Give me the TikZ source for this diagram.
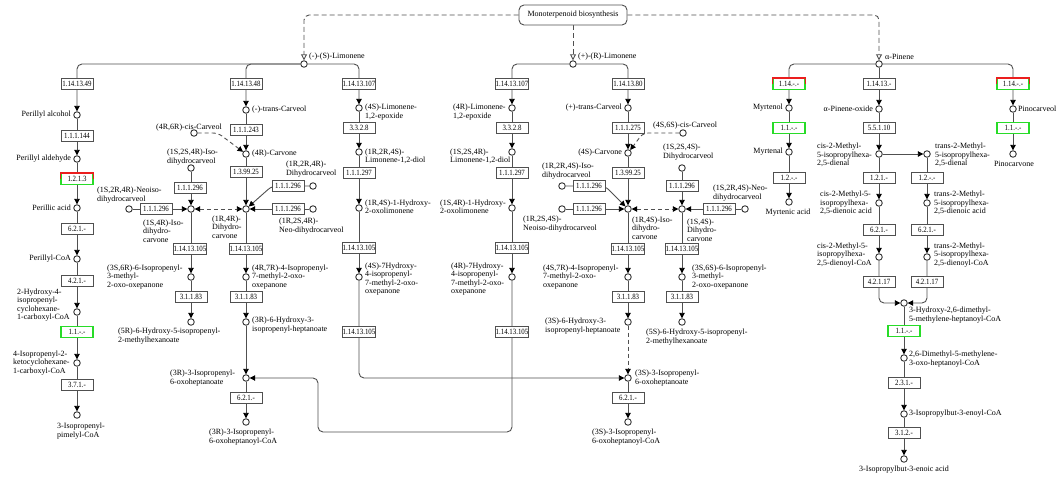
\documentclass[tikz,border=0pt]{standalone}
\usepackage{fontspec}
\setmainfont{Liberation Serif}
\newfontfamily\ecfont{Liberation Serif}[FakeStretch=0.86]
\usetikzlibrary{arrows.meta,backgrounds}
\definecolor{kgreen}{RGB}{40,220,40}
\definecolor{kred}{RGB}{235,30,30}
\definecolor{kline}{RGB}{80,80,80}
\begin{document}
\begin{tikzpicture}[x=1pt,y=-1pt,
  every node/.style={font=\fontsize{8}{8.3}\selectfont, inner sep=0pt},
  cpd/.style={circle, draw=black!80, fill=white, minimum size=6.5pt, line width=0.9pt},
  ec/.style={draw=kline, fill=white, line width=0.9pt, minimum width=32pt, minimum height=11pt,
             font=\ecfont\fontsize{8}{8}\selectfont},
  ecg/.style={ec, draw=kgreen, line width=1.4pt},
  tl/.style={align=left, anchor=west},
  tr/.style={align=right, anchor=east},
  tc/.style={align=center, anchor=center},
  mapbox/.style={draw=kline, fill=white, rounded corners=5pt, minimum width=108pt, minimum height=20pt, line width=0.9pt},
  link/.style={draw=kline, line width=0.9pt, rounded corners=5pt},
  arr/.style={link, -{Triangle[length=5.5pt,width=5.5pt,color=black]}},
  rev/.style={link, dash pattern=on 4pt off 3pt,
              {Triangle[length=5.5pt,width=5.5pt,color=black]}-{Triangle[length=5.5pt,width=5.5pt,color=black]}},
  darr/.style={arr, dash pattern=on 4pt off 3pt},
  maplink/.style={link, dash pattern=on 5pt off 3pt, -{Triangle[open,length=6pt,width=6pt,color=kline]}}
]
\useasboundingbox (0,0) rectangle (1062,479);

% ---------- map link ----------
\node[mapbox] (mono) at (573,15) {Monoterpenoid biosynthesis};

% ---------- compounds ----------
\node[cpd] (limS) at (304,64) {};
\node[cpd] (limR) at (573,64) {};
\node[cpd] (apin) at (879,64) {};
% perillyl branch
\node[cpd] (peral) at (77,115) {};
\node[cpd] (perald) at (77,159) {};
\node[cpd] (perac) at (77,208) {};
\node[cpd] (percoa) at (77,259) {};
\node[cpd] (hicoa) at (77,312) {};
\node[cpd] (kcoa) at (77,363) {};
\node[cpd] (pimcoa) at (77,415) {};
% (4R)-carvone branch
\node[cpd] (tcarvS) at (246,110) {};
\node[cpd] (carvR) at (246,154) {};
\node[cpd] (cisR) at (194,133) {};
\node[cpd] (dhcR) at (246,209) {};
\node[cpd] (isolS) at (191,168) {};
\node[cpd] (isoc) at (191,209) {};
\node[cpd] (neoisoR) at (129,209) {};
\node[cpd] (dhcolR) at (313,186) {};
\node[cpd] (neoR) at (313,209) {};
\node[cpd] (oxA) at (191,277) {};
\node[cpd] (oxB) at (246,277) {};
\node[cpd] (hyA) at (191,322) {};
\node[cpd] (hyB) at (246,322) {};
\node[cpd] (ketR) at (246,378) {};
\node[cpd] (ketRcoa) at (246,422) {};
% limonene epoxide branches
\node[cpd] (epS) at (359,108) {};
\node[cpd] (diolS) at (359,152) {};
\node[cpd] (hoxS) at (359,208) {};
\node[cpd] (hyS7) at (359,277) {};
\node[cpd] (epR) at (512,108) {};
\node[cpd] (diolR) at (512,152) {};
\node[cpd] (hoxR) at (512,208) {};
\node[cpd] (hyR7) at (512,277) {};
% (4S)-carvone branch
\node[cpd] (tcarvR) at (628,108) {};
\node[cpd] (carvS) at (628,153) {};
\node[cpd] (cisS) at (683,133) {};
\node[cpd] (isocS) at (628,209) {};
\node[cpd] (isolR) at (562,186) {};
\node[cpd] (neoisoS) at (562,209) {};
\node[cpd] (dhcolS) at (682,168) {};
\node[cpd] (dhcS) at (682,209) {};
\node[cpd] (neoS) at (745,209) {};
\node[cpd] (oxC) at (628,277) {};
\node[cpd] (oxD) at (682,277) {};
\node[cpd] (hyC) at (628,322) {};
\node[cpd] (hyD) at (682,322) {};
\node[cpd] (ketS) at (628,378) {};
\node[cpd] (ketScoa) at (628,422) {};
% pinene branches
\node[cpd] (myrol) at (789,108) {};
\node[cpd] (myral) at (789,152) {};
\node[cpd] (myrac) at (789,202) {};
\node[cpd] (apox) at (879,109) {};
\node[cpd] (cisal) at (879,154) {};
\node[cpd] (transal) at (927,154) {};
\node[cpd] (cisac) at (879,203) {};
\node[cpd] (transac) at (927,203) {};
\node[cpd] (ciscoa) at (879,257) {};
\node[cpd] (transcoa) at (927,257) {};
\node[cpd] (hcoa) at (904,303) {};
\node[cpd] (oxocoa) at (904,358) {};
\node[cpd] (butcoa) at (904,414) {};
\node[cpd] (butac) at (904,459) {};
\node[cpd] (pinol) at (1013,109) {};
\node[cpd] (pinone) at (1013,154) {};

% ---------- enzymes ----------
\node[ec] (b1) at (77,84) {1.14.13.49};
\node[ec] (b2) at (77,136) {1.1.1.144};
\node[ecg] (b3) at (77,179) {1.2.1.3};
\node[ec] (b4) at (77,229) {6.2.1.-};
\node[ec] (b5) at (77,281) {4.2.1.-};
\node[ecg] (b6) at (77,332) {1.1.-.-};
\node[ec] (b7) at (77,385) {3.7.1.-};
\node[ec] (b8) at (246,84) {1.14.13.48};
\node[ec] (b9) at (246,130) {1.1.1.243};
\node[ec] (b10) at (246,172) {1.3.99.25};
\node[ec] (b11) at (190,188) {1.1.1.296};
\node[ec] (b12) at (156,209) {1.1.1.296};
\node[ec] (b13) at (288,186) {1.1.1.296};
\node[ec] (b14) at (288,209) {1.1.1.296};
\node[ec] (b15) at (190,249) {1.14.13.105};
\node[ec] (b16) at (246,249) {1.14.13.105};
\node[ec] (b17) at (191,297) {3.1.1.83};
\node[ec] (b18) at (246,297) {3.1.1.83};
\node[ec] (b19) at (246,398) {6.2.1.-};
\node[ec] (b20) at (359,84) {1.14.13.107};
\node[ec] (b21) at (359,128) {3.3.2.8};
\node[ec] (b22) at (359,173) {1.1.1.297};
\node[ec] (b23) at (359,248) {1.14.13.105};
\node[ec] (b24) at (359,332) {1.14.13.105};
\node[ec] (b25) at (512,84) {1.14.13.107};
\node[ec] (b26) at (512,128) {3.3.2.8};
\node[ec] (b27) at (512,173) {1.1.1.297};
\node[ec] (b28) at (512,248) {1.14.13.105};
\node[ec] (b29) at (512,332) {1.14.13.105};
\node[ec] (b30) at (628,84) {1.14.13.80};
\node[ec] (b31) at (628,128) {1.1.1.275};
\node[ec] (b32) at (628,173) {1.3.99.25};
\node[ec] (b33) at (589,186) {1.1.1.296};
\node[ec] (b34) at (589,209) {1.1.1.296};
\node[ec] (b35) at (682,186) {1.1.1.296};
\node[ec] (b36) at (719,209) {1.1.1.296};
\node[ec] (b37) at (628,249) {1.14.13.105};
\node[ec] (b38) at (682,249) {1.14.13.105};
\node[ec] (b39) at (628,297) {3.1.1.83};
\node[ec] (b40) at (682,297) {3.1.1.83};
\node[ec] (b41) at (628,398) {6.2.1.-};
\node[ecg] (b42) at (789,84) {1.14.-.-};
\node[ecg] (b43) at (789,128) {1.1.-.-};
\node[ec] (b44) at (789,178) {1.2.-.-};
\node[ec] (b45) at (879,84) {1.14.13.-};
\node[ec] (b46) at (879,128) {5.5.1.10};
\node[ec] (b47) at (879,178) {1.2.1.-};
\node[ec] (b48) at (927,178) {1.2.-.-};
\node[ec] (b49) at (879,230) {6.2.1.-};
\node[ec] (b50) at (927,230) {6.2.1.-};
\node[ec] (b51) at (879,282) {4.2.1.17};
\node[ec] (b52) at (927,282) {4.2.1.17};
\node[ecg] (b53) at (904,331) {1.1.-.-};
\node[ec] (b54) at (904,383) {2.3.1.-};
\node[ec] (b55) at (904,433) {3.1.2.-};
\node[ecg] (b56) at (1013,84) {1.14.-.-};
\node[ecg] (b57) at (1013,128) {1.1.-.-};
% upper half of the two-coloured frames
\foreach \b in {b3,b42,b56}
  \draw[kred, line width=1.4pt] (\b.west) |- (\b.north) -| (\b.east);

% ---------- compound names ----------
\node[tl] (t-limS) at (309,57) {(-)-(S)-Limonene};
\node[tl] (t-limR) at (578,57) {(+)-(R)-Limonene};
\node[tl] (t-apin) at (885,57) {α-Pinene};
\node[tr] (t-peral) at (71,115) {Perillyl alcohol};
\node[tr] (t-perald) at (71,159) {Perillyl aldehyde};
\node[tr] (t-perac) at (71,208) {Perillic acid};
\node[tr] (t-percoa) at (71,259) {Perillyl-CoA};
\node[tl] (t-hicoa) at (17,305) {2-Hydroxy-4-\\isopropenyl-\\cyclohexane-\\1-carboxyl-CoA};
\node[tl] (t-kcoa) at (13,363) {4-Isopropenyl-2-\\ketocyclohexane-\\1-carboxyl-CoA};
\node[tl] (t-pimcoa) at (57,431) {3-Isopropenyl-\\pimelyl-CoA};
\node[tl] (t-tcarvS) at (252,110) {(-)-trans-Carveol};
\node[tl] (t-carvR) at (252,154) {(4R)-Carvone};
\node[tl] (t-cisR) at (156,128) {(4R,6R)-cis-Carveol};
\node[tl] (t-isolS) at (167,157) {(1S,2S,4R)-Iso-\\dihydrocarveol};
\node[tl] (t-neoisoR) at (97,195) {(1S,2R,4R)-Neoiso-\\dihydrocarveol};
\node[tl] (t-isoc) at (143,231) {(1S,4R)-Iso-\\dihydro-\\carvone};
\node[tl] (t-dhcR) at (212,227) {(1R,4R)-\\Dihydro-\\carvone};
\node[tl] (t-dhcolR) at (286,169) {(1R,2R,4R)-\\Dihydrocarveol};
\node[tl] (t-neoR) at (279,226) {(1R,2S,4R)-\\Neo-dihydrocarveol};
\node[tl] (t-oxA) at (107,277) {(3S,6R)-6-Isopropenyl-\\3-methyl-\\2-oxo-oxepanone};
\node[tl] (t-oxB) at (252,277) {(4R,7R)-4-Isopropenyl-\\7-methyl-2-oxo-\\oxepanone};
\node[tl] (t-hyA) at (118,336) {(5R)-6-Hydroxy-5-isopropenyl-\\2-methylhexanoate};
\node[tl] (t-hyB) at (252,325) {(3R)-6-Hydroxy-3-\\isopropenyl-heptanoate};
\node[tl] (t-ketR) at (170,378) {(3R)-3-Isopropenyl-\\6-oxoheptanoate};
\node[tl] (t-ketRcoa) at (209,437) {(3R)-3-Isopropenyl-\\6-oxoheptanoyl-CoA};
\node[tl] (t-epS) at (365,112) {(4S)-Limonene-\\1,2-epoxide};
\node[tl] (t-diolS) at (365,156) {(1R,2R,4S)-\\Limonene-1,2-diol};
\node[tl] (t-hoxS) at (365,207) {(1R,4S)-1-Hydroxy-\\2-oxolimonene};
\node[tl] (t-hyS7) at (365,279) {(4S)-7Hydroxy-\\4-isopropenyl-\\7-methyl-2-oxo-\\oxepanone};
\node[tl] (t-epR) at (453,112) {(4R)-Limonene-\\1,2-epoxide};
\node[tl] (t-diolR) at (450,156) {(1S,2S,4R)-\\Limonene-1,2-diol};
\node[tl] (t-hoxR) at (440,207) {(1S,4R)-1-Hydroxy-\\2-oxolimonene};
\node[tl] (t-hyR7) at (451,279) {(4R)-7Hydroxy-\\4-isopropenyl-\\7-methyl-2-oxo-\\oxepanone};
\node[tr] (t-tcarvR) at (622,108) {(+)-trans-Carveol};
\node[tr] (t-carvS) at (622,153) {(4S)-Carvone};
\node[tl] (t-cisS) at (653,126) {(4S,6S)-cis-Carveol};
\node[tl] (t-dhcolS) at (663,152) {(1S,2S,4S)-\\Dihydrocarveol};
\node[tl] (t-isolR) at (542,171) {(1R,2R,4S)-Iso-\\dihydrocarveol};
\node[tl] (t-neoisoS) at (523,224) {(1R,2S,4S)-\\Neoiso-dihydrocarveol};
\node[tl] (t-isocS) at (632,228) {(1R,4S)-Iso-\\dihydro-\\carvone};
\node[tl] (t-dhcS) at (687,230) {(1S,4S)-\\Dihydro-\\carvone};
\node[tl] (t-neoS) at (713,193) {(1S,2R,4S)-Neo-\\dihydrocarveol};
\node[tl] (t-oxC) at (543,277) {(4S,7R)-4-Isopropenyl-\\7-methyl-2-oxo-\\oxepanone};
\node[tl] (t-oxD) at (692,277) {(3S,6S)-6-Isopropenyl-\\3-methyl-\\2-oxo-oxepanone};
\node[tl] (t-hyC) at (545,326) {(3S)-6-Hydroxy-3-\\isopropenyl-heptanoate};
\node[tl] (t-hyD) at (646,337) {(5S)-6-Hydroxy-5-isopropenyl-\\2-methylhexanoate};
\node[tl] (t-ketS) at (635,378) {(3S)-3-Isopropenyl-\\6-oxoheptanoate};
\node[tl] (t-ketScoa) at (592,437) {(3S)-3-Isopropenyl-\\6-oxoheptanoyl-CoA};
\node[tr] (t-myrol) at (783,108) {Myrtenol};
\node[tr] (t-myral) at (783,152) {Myrtenal};
\node[tc] (t-myrac) at (788,213) {Myrtenic acid};
\node[tr] (t-apox) at (873,109) {α-Pinene-oxide};
\node[tl] (t-cisal) at (817,155) {cis-2-Methyl-\\5-isopropylhexa-\\2,5-dienal};
\node[tl] (t-transal) at (935,155) {trans-2-Methyl-\\5-isopropylhexa-\\2,5-dienal};
\node[tl] (t-cisac) at (820,203) {cis-2-Methyl-5-\\isopropylhexa-\\2,5-dienoic acid};
\node[tl] (t-transac) at (934,203) {trans-2-Methyl-\\5-isopropylhexa-\\2,5-dienoic acid};
\node[tl] (t-ciscoa) at (817,255) {cis-2-Methyl-5-\\isopropylhexa-\\2,5-dienoyl-CoA};
\node[tl] (t-transcoa) at (934,255) {trans-2-Methyl-\\5-isopropylhexa-\\2,5-dienoyl-CoA};
\node[tl] (t-hcoa) at (909,315) {3-Hydroxy-2,6-dimethyl-\\5-methylene-heptanoyl-CoA};
\node[tl] (t-oxocoa) at (909,359) {2,6-Dimethyl-5-methylene-\\3-oxo-heptanoyl-CoA};
\node[tl] (t-butcoa) at (909,414) {3-Isopropylbut-3-enoyl-CoA};
\node[tc] (t-butac) at (904,470) {3-Isopropylbut-3-enoic acid};
\node[tl] (t-pinol) at (1018,109) {Pinocarveol};
\node[tc] (t-pinone) at (1014,164) {Pinocarvone};

% ---------- reactions ----------
\begin{scope}[on background layer]
  \fill[white] (0,0) rectangle (1062,479);
  % links to monoterpenoid biosynthesis
  \draw[maplink] (mono.west) -| (limS);
  \draw[maplink] (mono) -- (limR);
  \draw[maplink] (mono.east) -| (apin);
  % perillyl route
  \draw[arr] (limS) -| (peral);
  \draw[arr] (peral) -- (perald);
  \draw[arr] (perald) -- (perac);
  \draw[arr] (perac) -- (percoa);
  \draw[arr] (percoa) -- (hicoa);
  \draw[arr] (hicoa) -- (kcoa);
  \draw[arr] (kcoa) -- (pimcoa);
  % (4R)-carvone route
  \draw[arr] (limS) -| (tcarvS);
  \draw[arr] (tcarvS) -- (carvR);
  \draw[arr] (carvR) -- (dhcR);
  \draw[darr] (cisR) -- ++(24,0) -- (carvR);
  \draw[arr] (isolS) -- (isoc);
  \draw[arr] (neoisoR) -- (isoc);
  \draw[rev] (isoc) -- (dhcR);
  \draw[arr] (dhcolR) -- ++(-41,0) -- (dhcR);
  \draw[arr] (neoR) -- (dhcR);
  \draw[arr] (isoc) -- (oxA);
  \draw[arr] (oxA) -- (hyA);
  \draw[arr] (dhcR) -- (oxB);
  \draw[arr] (oxB) -- (hyB);
  \draw[arr] (hyB) -- (ketR);
  \draw[arr] (ketR) -- (ketRcoa);
  % (4S)-limonene epoxide route
  \draw[arr] (limS) -| (epS);
  \draw[arr] (epS) -- (diolS);
  \draw[arr] (diolS) -- (hoxS);
  \draw[arr] (hoxS) -- (hyS7);
  \draw[arr] (hyS7) |- (ketS);
  % (4R)-limonene epoxide route
  \draw[arr] (limR) -| (epR);
  \draw[arr] (epR) -- (diolR);
  \draw[arr] (diolR) -- (hoxR);
  \draw[arr] (hoxR) -- (hyR7);
  \draw[arr] (hyR7) -- ++(0,155) -- ++(-194,0) -- ++(0,-54) -- (ketR);
  % (4S)-carvone route
  \draw[arr] (limR) -| (tcarvR);
  \draw[arr] (tcarvR) -- (carvS);
  \draw[arr] (carvS) -- (isocS);
  \draw[darr] (cisS) -- ++(-40,0) -- (carvS);
  \draw[arr] (isolR) -- ++(43,0) -- (isocS);
  \draw[arr] (neoisoS) -- (isocS);
  \draw[rev] (isocS) -- (dhcS);
  \draw[arr] (dhcolS) -- (dhcS);
  \draw[arr] (neoS) -- (dhcS);
  \draw[arr] (isocS) -- (oxC);
  \draw[arr] (oxC) -- (hyC);
  \draw[darr] (hyC) -- (ketS);
  \draw[arr] (ketS) -- (ketScoa);
  \draw[arr] (dhcS) -- (oxD);
  \draw[arr] (oxD) -- (hyD);
  % alpha-pinene routes
  \draw[arr] (apin) -| (myrol);
  \draw[arr] (myrol) -- (myral);
  \draw[arr] (myral) -- (myrac);
  \draw[arr] (apin) -- (apox);
  \draw[arr] (apox) -- (cisal);
  \draw[arr] (cisal) -- (transal);
  \draw[arr] (cisal) -- (cisac);
  \draw[arr] (cisac) -- (ciscoa);
  \draw[arr] (ciscoa) |- (hcoa);
  \draw[arr] (transal) -- (transac);
  \draw[arr] (transac) -- (transcoa);
  \draw[arr] (transcoa) |- (hcoa);
  \draw[arr] (hcoa) -- (oxocoa);
  \draw[arr] (oxocoa) -- (butcoa);
  \draw[arr] (butcoa) -- (butac);
  \draw[arr] (apin) -| (pinol);
  \draw[arr] (pinol) -- (pinone);
\end{scope}
\end{tikzpicture}
\end{document}
